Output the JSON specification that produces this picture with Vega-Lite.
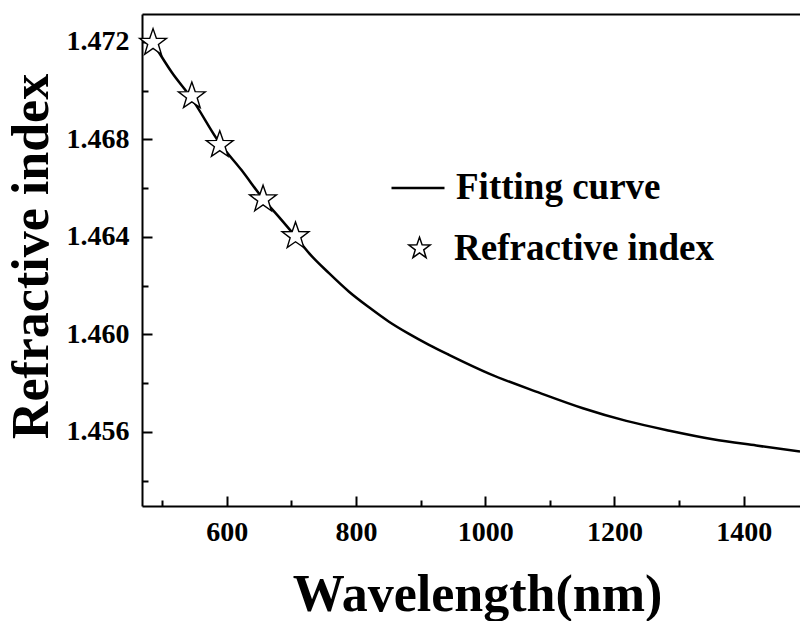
{
  "$schema": "https://vega.github.io/schema/vega-lite/v6.json",
  "width": 658,
  "height": 492,
  "autosize": {"type": "none"},
  "padding": {"left": 142, "top": 14, "right": 0, "bottom": 115},
  "background": "white",
  "config": {
    "view": {"stroke": null},
    "font": "Liberation Serif",
    "axis": {
      "labelFont": "Liberation Serif",
      "labelFontWeight": "bold",
      "labelFontSize": 28,
      "labelColor": "black",
      "titleFont": "Liberation Serif",
      "titleFontWeight": "bold",
      "titleFontSize": 52,
      "titleColor": "black",
      "domainColor": "black",
      "tickColor": "black",
      "domainWidth": 2,
      "tickWidth": 2,
      "grid": false
    },
    "legend": {
      "labelFont": "Liberation Serif",
      "labelFontWeight": "bold",
      "labelFontSize": 37,
      "labelColor": "black",
      "labelLimit": 500
    }
  },
  "datasets": {
    "curve": [
      {"wavelength": 486, "n": 1.47196, "series": "Fitting curve"},
      {"wavelength": 515, "n": 1.47075, "series": "Fitting curve"},
      {"wavelength": 546, "n": 1.46967, "series": "Fitting curve"},
      {"wavelength": 589, "n": 1.46785, "series": "Fitting curve"},
      {"wavelength": 622.6, "n": 1.46675, "series": "Fitting curve"},
      {"wavelength": 656, "n": 1.46557, "series": "Fitting curve"},
      {"wavelength": 680.4, "n": 1.46483, "series": "Fitting curve"},
      {"wavelength": 706, "n": 1.46403, "series": "Fitting curve"},
      {"wavelength": 727.4, "n": 1.46333, "series": "Fitting curve"},
      {"wavelength": 758.3, "n": 1.46251, "series": "Fitting curve"},
      {"wavelength": 789.3, "n": 1.46175, "series": "Fitting curve"},
      {"wavelength": 820.2, "n": 1.46111, "series": "Fitting curve"},
      {"wavelength": 851.1, "n": 1.46052, "series": "Fitting curve"},
      {"wavelength": 882.1, "n": 1.46002, "series": "Fitting curve"},
      {"wavelength": 913, "n": 1.45957, "series": "Fitting curve"},
      {"wavelength": 943.9, "n": 1.45916, "series": "Fitting curve"},
      {"wavelength": 1006.8, "n": 1.45838, "series": "Fitting curve"},
      {"wavelength": 1084.2, "n": 1.4576, "series": "Fitting curve"},
      {"wavelength": 1151.1, "n": 1.45697, "series": "Fitting curve"},
      {"wavelength": 1218.3, "n": 1.45645, "series": "Fitting curve"},
      {"wavelength": 1285.2, "n": 1.45605, "series": "Fitting curve"},
      {"wavelength": 1352.2, "n": 1.4557, "series": "Fitting curve"},
      {"wavelength": 1419.3, "n": 1.45544, "series": "Fitting curve"},
      {"wavelength": 1487, "n": 1.45519, "series": "Fitting curve"}
    ],
    "stars": [
      {"wavelength": 486.1, "n": 1.47196, "kind": "Refractive index"},
      {"wavelength": 546.1, "n": 1.46977, "kind": "Refractive index"},
      {"wavelength": 589.3, "n": 1.46777, "kind": "Refractive index"},
      {"wavelength": 656.3, "n": 1.46554, "kind": "Refractive index"},
      {"wavelength": 706.5, "n": 1.46403, "kind": "Refractive index"}
    ]
  },
  "layer": [
    {
      "data": {"name": "curve"},
      "mark": {"type": "line", "strokeWidth": 2.5, "interpolate": "monotone", "clip": true},
      "encoding": {
        "x": {
          "field": "wavelength", "type": "quantitative",
          "scale": {"domain": [469, 1487], "nice": false, "zero": false},
          "axis": {
            "orient": "bottom",
            "values": [600, 800, 1000, 1200, 1400],
            "format": "d",
            "tickSize": -10,
            "labelPadding": 22,
            "title": "Wavelength(nm)",
            "titleX": 335,
            "titleY": 104,
            "titleAlign": "center",
            "titleBaseline": "alphabetic"
          }
        },
        "y": {
          "field": "n", "type": "quantitative",
          "scale": {"domain": [1.45296, 1.47314], "nice": false, "zero": false},
          "axis": {
            "orient": "left",
            "values": [1.456, 1.46, 1.464, 1.468, 1.472],
            "format": ".3f",
            "tickSize": -10,
            "labelPadding": 23,
            "title": "Refractive index",
            "titleAngle": -90,
            "titleX": -95,
            "titleY": 242,
            "titleAlign": "center",
            "titleBaseline": "alphabetic"
          }
        },
        "color": {
          "field": "series", "type": "nominal",
          "scale": {"domain": ["Fitting curve"], "range": ["black"]},
          "legend": {
            "title": null,
            "orient": "none",
            "legendX": 248,
            "legendY": 146,
            "symbolType": "stroke",
            "symbolSize": 2809,
            "symbolStrokeWidth": 2.5,
            "labelOffset": 10
          }
        }
      }
    },
    {
      "data": {"name": "stars"},
      "mark": {"type": "point", "filled": true, "fill": "white", "stroke": "black", "strokeWidth": 1.4, "size": 800, "opacity": 1},
      "encoding": {
        "x": {
          "field": "wavelength", "type": "quantitative",
          "axis": {"orient": "bottom", "values": [500, 700, 900, 1100, 1300], "tickSize": -6, "labels": false, "domain": false, "title": null}
        },
        "y": {
          "field": "n", "type": "quantitative",
          "axis": {"orient": "left", "values": [1.454, 1.458, 1.462, 1.466, 1.47], "tickSize": -6, "labels": false, "domain": false, "title": null}
        },
        "shape": {
          "field": "kind", "type": "nominal",
          "scale": {
            "domain": ["Refractive index"],
            "range": ["M0,-1L0.235,-0.324L0.951,-0.309L0.38,0.124L0.588,0.809L0,0.4L-0.588,0.809L-0.38,0.124L-0.951,-0.309L-0.235,-0.324Z"]
          },
          "legend": {
            "title": null,
            "orient": "none",
            "legendX": 259,
            "legendY": 216,
            "symbolSize": 500,
            "labelOffset": 16
          }
        }
      }
    },
    {
      "data": {"name": "curve"},
      "mark": {"type": "line", "opacity": 0},
      "encoding": {
        "x": {
          "field": "wavelength", "type": "quantitative",
          "axis": {"orient": "top", "ticks": false, "labels": false, "domain": true, "title": null}
        },
        "y": {"field": "n", "type": "quantitative", "axis": null}
      }
    }
  ],
  "resolve": {"axis": {"x": "independent", "y": "independent"}}
}
